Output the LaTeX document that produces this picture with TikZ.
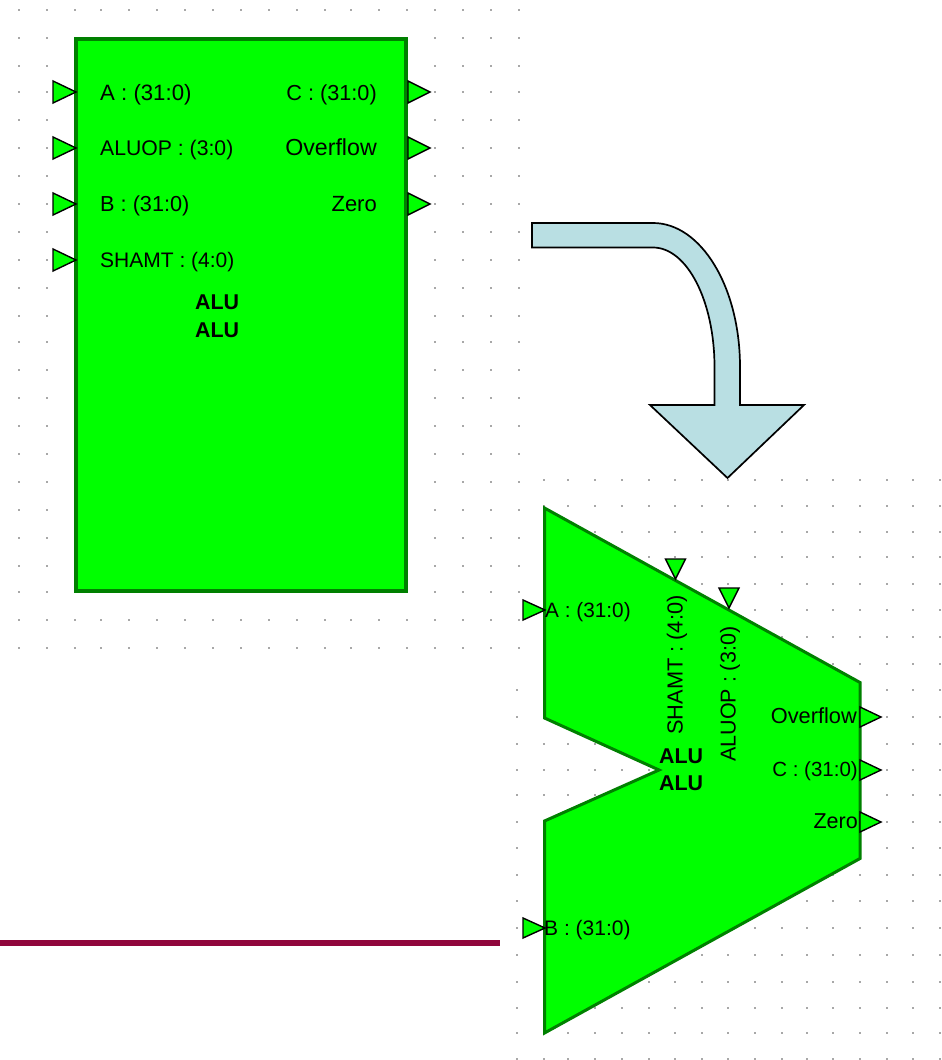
\documentclass[tikz,border=0pt]{standalone}
\usepackage{fontspec}
\setmainfont{Liberation Sans}
\definecolor{blockgreen}{HTML}{00FF00}
\definecolor{edgegreen}{HTML}{008000}
\definecolor{arrowfill}{HTML}{B9DFE3}
\definecolor{rulered}{HTML}{90063C}
\definecolor{griddot}{HTML}{A8A8A8}
\tikzset{
  griddots/.style={fill=griddot},
  block/.style={fill=blockgreen,draw=edgegreen,line width=4pt,miter limit=20},
  polyblock/.style={fill=blockgreen,draw=edgegreen,line width=3pt,miter limit=20},
  portmark/.style={fill=blockgreen,draw=black,line width=1.4pt,line join=miter},
  bentarrow/.style={fill=arrowfill,draw=black,line width=1.7pt,line join=miter},
  redrule/.style={draw=rulered,line width=6pt},
  lab/.style={inner sep=0pt,font=\fontsize{#1}{24}\selectfont,text=black},
  lab/.default=21,
  title/.style={inner sep=0pt,font=\fontsize{21.4}{24}\selectfont\bfseries,text=black,anchor=base west}
}
\newcommand{\griddot}[2]{\fill[griddots] (#1-0.9,#2-0.9) rectangle (#1+0.9,#2+0.9);}
\newcommand{\portright}[5]{\draw[portmark] (#1,#2-#4) -- (#1+#3,#2) -- (#1,#2+#5) -- cycle;}
\newcommand{\portdown}[3]{\draw[portmark] (#1-10,#2) -- (#1+10,#2) -- (#1,#3) -- cycle;}
\begin{document}
\begin{tikzpicture}[x=1pt,y=-1pt]
\useasboundingbox (0,0) rectangle (942,1060);
\fill[white] (0,0) rectangle (942,1060);
% left grid
\foreach \xx in {19,47,75,101,129,157,185,213,241,269,297,325,351,379,407,435,463,491,519}
  \foreach \yy in {10,38,66,92,120,148,176,204,232,260,288,316,342,370,398,426,454,482,510,538,566,592,620,648}
    {\griddot{\xx}{\yy}}
% right grid
\foreach \xx in {544,568,595,622,649,675,702,728,755,782,807,833,860,887,913,940}
  \foreach \yy in {480,506,532,557,584,610,637,664,690,717,744,770,795,822,848,875,901,928,955,982,1008,1033,1059}
    {\griddot{\xx}{\yy}}
\foreach \yy in {690,717,744,770,795,822,848,875,901,928,955,982,1008,1033,1059}
  {\griddot{517}{\yy}}

% rule
\draw[redrule] (0,943) -- (500,943);

% bent arrow
\draw[bentarrow] (532,223) -- (653,223)
  .. controls (701,223) and (740,287) .. (740,367)
  -- (740,405) -- (804,405) -- (727.5,478) -- (650,405) -- (714.5,405) -- (714.5,367)
  .. controls (714.5,301) and (687,247.5) .. (653,247.5)
  -- (532,247.5) -- cycle;

% rectangular block
\draw[block] (76,39) rectangle (406,590.7);
\portright{53}{92}{23}{11}{11}
\portright{53}{148}{23}{11}{11}
\portright{53}{204}{23}{11}{11}
\portright{53}{260}{23}{11}{11}
\portright{408}{92}{22}{11}{11}
\portright{408}{148}{22}{11}{11}
\portright{408}{204}{22}{11}{11}

\node[lab=22.2,anchor=base west] (la) at (100,100.7) {A : (31:0)};
\node[lab=21.2,anchor=base west] (lop) at (100,155) {ALUOP : (3:0)};
\node[lab=21.7,anchor=base west] (lb) at (100,211) {B : (31:0)};
\node[lab=21,anchor=base west] (lsh) at (100,267) {SHAMT : (4:0)};
\node[lab=21.7,anchor=base east] (lc) at (377,100.7) {C : (31:0)};
\node[lab=23.2,anchor=base east] (lov) at (377,155) {Overflow};
\node[lab=22,anchor=base east] (lz) at (377,211) {Zero};
\node[title] (lt1) at (195,309) {ALU};
\node[title] (lt2) at (195,337) {ALU};

% ALU-shaped block
\draw[polyblock] (544.5,508) -- (860,682.5) -- (860,858.5) -- (544.5,1033) -- (544.5,821) -- (659,770) -- (544.5,718) -- cycle;
\portright{523}{610}{22}{10}{10}
\portright{523}{928}{22}{10}{10}
\portdown{675.5}{559}{579}
\portdown{729}{588}{608}
\portright{860}{717}{21}{10}{10}
\portright{860}{770}{21}{10}{10}
\portright{860}{822}{21}{10}{10}

\node[lab=20.8,anchor=base west] (ra) at (545,617) {A : (31:0)};
\node[lab=21,anchor=base west] (rb) at (544,935) {B : (31:0)};
\node[lab=21.8,anchor=base east] (rov) at (857,723.5) {Overflow};
\node[lab=20.5,anchor=base east] (rc) at (858,776.5) {C : (31:0)};
\node[lab=21.5,anchor=base east] (rz) at (858,828) {Zero};
\node[lab=21.8,anchor=base west,rotate=90] (rsh) at (682.5,735) {SHAMT : (4:0)};
\node[lab=21.5,anchor=base west,rotate=90] (rop) at (735.5,762) {ALUOP : (3:0)};
\node[title] (rt1) at (659,763.5) {ALU};
\node[title] (rt2) at (659,790.5) {ALU};
\end{tikzpicture}
\end{document}
